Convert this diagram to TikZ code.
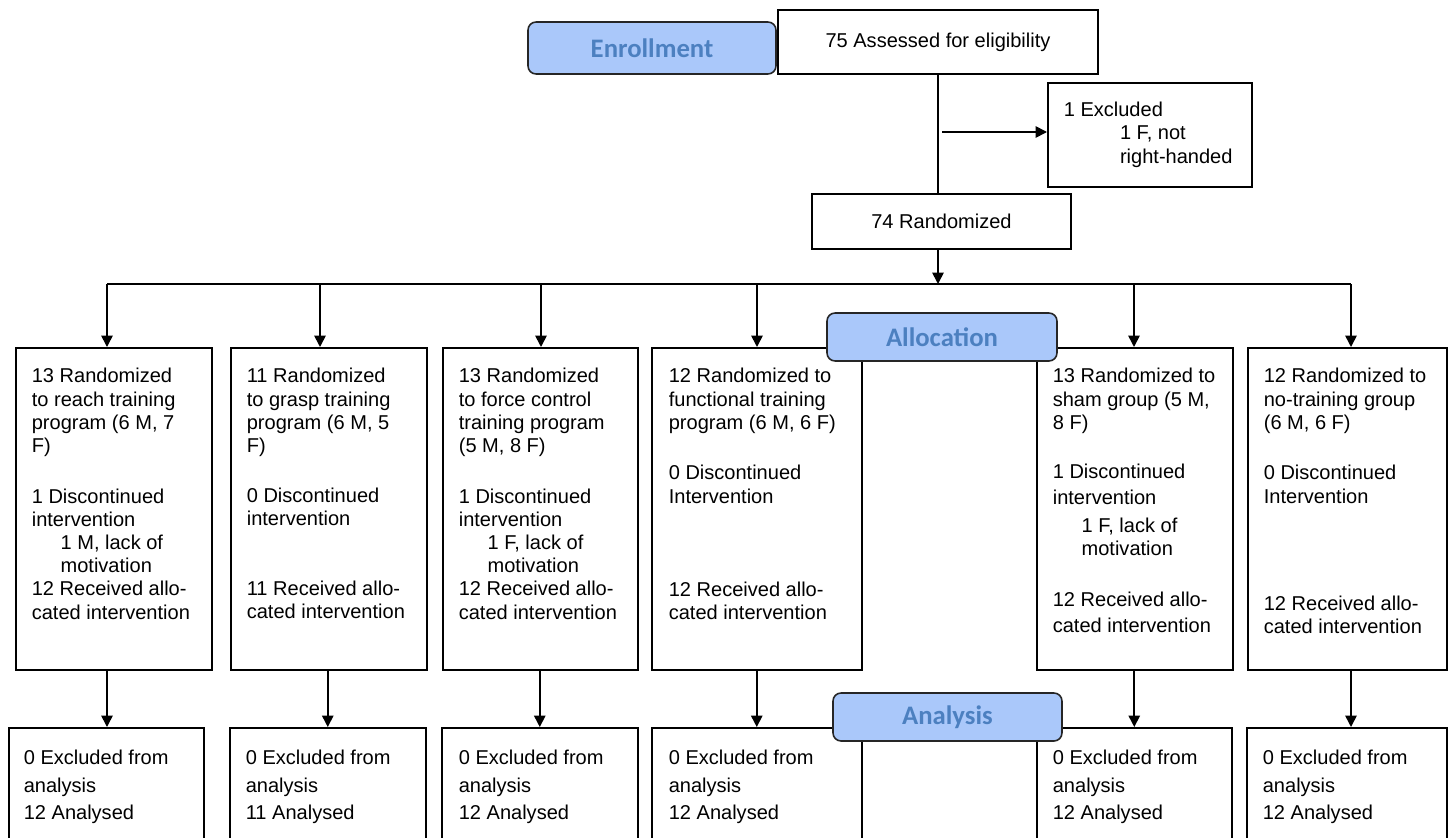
\documentclass[tikz,border=0pt]{standalone}
\usepackage{fontspec}
\setmainfont{Liberation Sans}
\newfontfamily\carlito{Carlito}
\usetikzlibrary{arrows.meta}

\definecolor{stagefill}{RGB}{170,200,250}
\definecolor{stagetext}{RGB}{76,128,192}
\newcommand{\boxfont}{\fontsize{11.4pt}{13.2pt}\selectfont}
\newcommand{\outfont}{\fontsize{11.4pt}{15.7pt}\selectfont}
\newcommand{\gap}{\hspace*{16.4pt}}
\newcommand{\firstln}{\rule{0pt}{10pt}}

\begin{document}
\begin{tikzpicture}[x=0.02cm, y=-0.02cm, >={Triangle[length=6.5pt, width=6.5pt]}, line width=0.95,
  box/.style={draw, rectangle, inner sep=0pt, line width=0.9},
  stage/.style={draw=black!85, fill=stagefill, rounded corners=0.16cm, text=stagetext, font=\carlito\bfseries\fontsize{15.2pt}{18pt}\selectfont, line width=0.9, inner sep=0pt},
  txt/.style={anchor=north west, align=left, inner sep=0pt, font=\boxfont},
  outtxt/.style={anchor=north west, align=left, inner sep=0pt, font=\outfont}]
\clip (0,0) rectangle (1448,838);

\node[box, minimum width=6.4cm, minimum height=1.28cm, font=\boxfont] (assessed) at (938,42) {75 Assessed for eligibility};
\node[stage, minimum width=4.96cm, minimum height=1.04cm] (enrollment) at (652,48) {Enrollment};
\node[box, minimum width=4.08cm, minimum height=2.08cm, anchor=north west] (excluded) at (1047,82) {};
\node[txt] (excludedtxt) at (1063,98.4) {\firstln 1 Excluded\\\hspace*{32pt}1 F, not\\\hspace*{32pt}right-handed};
\node[box, minimum width=5.18cm, minimum height=1.1cm, font=\boxfont] (randomized) at (941.5,221.5) {74 Randomized};

\coordinate (split) at (942,132);
\coordinate (hub) at (938,284);
\coordinate (d1) at (107,284);
\coordinate (d2) at (320,284);
\coordinate (d3) at (541,284);
\coordinate (d4) at (757,284);
\coordinate (d5) at (1134,284);
\coordinate (d6) at (1351,284);

\draw (assessed.south) -- (assessed.south |- randomized.north);
\draw[->] (split) -- (split -| excluded.west);
\draw[->] (hub |- randomized.south) -- (hub);
\draw (d1) -- (d6);

% allocated groups
\node[box, minimum width=3.92cm, minimum height=6.44cm, anchor=north west] (reach) at (15,347) {};
\node[box, minimum width=3.92cm, minimum height=6.44cm, anchor=north west] (grasp) at (230,347) {};
\node[box, minimum width=3.9cm, minimum height=6.44cm, anchor=north west] (force) at (442,347) {};
\node[box, minimum width=4.2cm, minimum height=6.44cm, anchor=north west] (functional) at (651,347) {};
\node[box, minimum width=3.92cm, minimum height=6.44cm, anchor=north west] (sham) at (1036,347) {};
\node[box, minimum width=3.98cm, minimum height=6.44cm, anchor=north west] (notraining) at (1247,347) {};

\node[txt] (reachtxt) at (31,364.4) {\firstln 13 Randomized\\to reach training\\program (6 M, 7\\F)\\[15.7pt]1 Discontinued\\intervention\\\gap 1 M, lack of\\\gap motivation\\12 Received allo-\\cated intervention};
\node[txt] (grasptxt) at (246,364.4) {\firstln 11 Randomized\\to grasp training\\program (6 M, 5\\F)\\[15.1pt]0 Discontinued\\intervention\\[26.5pt]11 Received allo-\\cated intervention};
\node[txt] (forcetxt) at (458,364.4) {\firstln 13 Randomized\\to force control\\training program\\(5 M, 8 F)\\[15.7pt]1 Discontinued\\intervention\\\gap 1 F, lack of\\\gap motivation\\12 Received allo-\\cated intervention};
\node[txt] (functionaltxt) at (668,364.4) {\firstln 12 Randomized to\\functional training\\program (6 M, 6 F)\\[15.7pt]0 Discontinued\\Intervention\\[39.7pt]12 Received allo-\\cated intervention};
\node[txt] (shamtxt) at (1052,364.4) {\firstln 13 Randomized to\\sham group (5 M,\\8 F)\\[15.1pt]1 Discontinued\\[1.5pt]intervention\\[2.7pt]\gap 1 F, lack of\\\gap motivation\\[15.7pt]12 Received allo-\\[1.5pt]cated intervention};
\node[txt] (notrainingtxt) at (1263,364.4) {\firstln 12 Randomized to\\no-training group\\(6 M, 6 F)\\[15.7pt]0 Discontinued\\Intervention\\[47.8pt]12 Received allo-\\cated intervention};

\node[stage, minimum width=4.6cm, minimum height=0.96cm] (allocation) at (942,337) {Allocation};

\draw[->] (d1) -- (d1 |- reach.north);
\draw[->] (d2) -- (d2 |- grasp.north);
\draw[->] (d3) -- (d3 |- force.north);
\draw[->] (d4) -- (d4 |- functional.north);
\draw[->] (d5) -- (d5 |- sham.north);
\draw[->] (d6) -- (d6 |- notraining.north);

% analysed groups
\node[box, minimum width=3.9cm, minimum height=3.06cm, anchor=north west] (reachout) at (8,727) {};
\node[box, minimum width=3.92cm, minimum height=3.06cm, anchor=north west] (graspout) at (229,727) {};
\node[box, minimum width=3.92cm, minimum height=3.06cm, anchor=north west] (forceout) at (441,727) {};
\node[box, minimum width=4.2cm, minimum height=3.06cm, anchor=north west] (functionalout) at (651,727) {};
\node[box, minimum width=3.9cm, minimum height=3.06cm, anchor=north west] (shamout) at (1036,727) {};
\node[box, minimum width=4.0cm, minimum height=3.06cm, anchor=north west] (notrainingout) at (1246,727) {};

\node[outtxt] (reachouttxt) at (23,746.4) {\firstln 0 Excluded from\\analysis\\12 Analysed};
\node[outtxt] (graspouttxt) at (245,746.4) {\firstln 0 Excluded from\\analysis\\11 Analysed};
\node[outtxt] (forceouttxt) at (458,746.4) {\firstln 0 Excluded from\\analysis\\12 Analysed};
\node[outtxt] (functionalouttxt) at (668,746.4) {\firstln 0 Excluded from\\analysis\\12 Analysed};
\node[outtxt] (shamouttxt) at (1052,746.4) {\firstln 0 Excluded from\\analysis\\12 Analysed};
\node[outtxt] (notrainingouttxt) at (1262,746.4) {\firstln 0 Excluded from\\analysis\\12 Analysed};

\node[stage, minimum width=4.58cm, minimum height=0.96cm] (analysis) at (947.5,717) {Analysis};

\draw[->] (d1 |- reach.south) -- (d1 |- reachout.north);
\draw[->] (graspout.north |- grasp.south) -- (graspout.north);
\draw[->] (forceout.north |- force.south) -- (forceout.north);
\draw[->] (functionalout.north |- functional.south) -- (functionalout.north);
\draw[->] (shamout.north |- sham.south) -- (shamout.north);
\draw[->] (d6 |- notraining.south) -- (d6 |- notrainingout.north);
\end{tikzpicture}
\end{document}
